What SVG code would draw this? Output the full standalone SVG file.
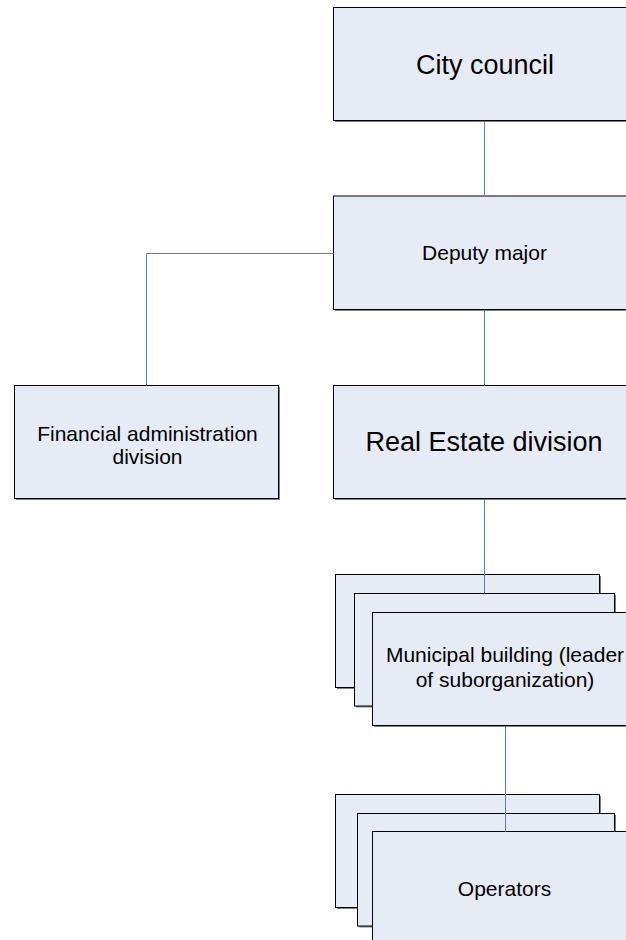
<svg xmlns="http://www.w3.org/2000/svg" width="626" height="940" viewBox="0 0 626 940">
  <style>
    .shadow { fill: #808080; }
    .box { fill: #e6ecf6; stroke: #000000; stroke-width: 1; }
    .link { fill: none; stroke: #4f81c7; stroke-width: 1; }
    .label { font-family: "Liberation Sans", Arial, sans-serif; fill: #000000; text-anchor: middle; }
  </style>
  <rect width="626" height="940" fill="#ffffff"/>

  <g id="city-council">
    <rect class="shadow" x="335" y="9" width="302" height="113"/>
    <rect class="box" x="333.5" y="7.5" width="302" height="113"/>
    <text class="label" x="485" y="73.5" font-size="27">City council</text>
  </g>

  <g id="deputy-major">
    <rect class="shadow" x="335" y="197.5" width="302" height="113.5"/>
    <rect class="box" x="333.5" y="196" width="302" height="113.5"/>
    <text class="label" x="484.5" y="259.5" font-size="21">Deputy major</text>
  </g>

  <g id="financial-administration">
    <rect class="shadow" x="16" y="387" width="264" height="113"/>
    <rect class="box" x="14.5" y="385.5" width="264" height="113"/>
    <text class="label" x="147.5" y="441" font-size="21">Financial administration</text>
    <text class="label" x="147.5" y="463.5" font-size="21">division</text>
  </g>

  <g id="real-estate">
    <rect class="shadow" x="335" y="387" width="302" height="113"/>
    <rect class="box" x="333.5" y="385.5" width="302" height="113"/>
    <text class="label" x="484" y="451" font-size="27">Real Estate division</text>
  </g>

  <g id="municipal-building">
    <rect class="shadow" x="337" y="576" width="264" height="113"/>
    <rect class="box" x="335.5" y="574.5" width="264" height="113"/>
    <rect class="shadow" x="356" y="595" width="260" height="112.5"/>
    <rect class="box" x="354.5" y="593.5" width="260" height="112.5"/>
    <rect class="shadow" x="374" y="614" width="265" height="113"/>
    <rect class="box" x="372.5" y="612.5" width="265" height="113"/>
    <text class="label" x="505" y="662" font-size="21">Municipal building (leader</text>
    <text class="label" x="505" y="687" font-size="21">of suborganization)</text>
  </g>

  <g id="operators">
    <rect class="shadow" x="337" y="796" width="264" height="113"/>
    <rect class="box" x="335.5" y="794.5" width="264" height="113"/>
    <rect class="shadow" x="359" y="815" width="257" height="112.5"/>
    <rect class="box" x="357.5" y="813.5" width="257" height="112.5"/>
    <rect class="shadow" x="374" y="833" width="265" height="113"/>
    <rect class="box" x="372.5" y="831.5" width="265" height="113"/>
    <text class="label" x="504.5" y="896" font-size="21">Operators</text>
  </g>

  <g id="connectors">
    <path class="link" d="M484.5 121V196"/>
    <path class="link" d="M484.5 310V385.5"/>
    <path class="link" d="M333.5 253.5H146.5V385.5"/>
    <path class="link" d="M484.5 499V593.5"/>
    <path class="link" d="M505.5 726V831.5"/>
  </g>
</svg>
